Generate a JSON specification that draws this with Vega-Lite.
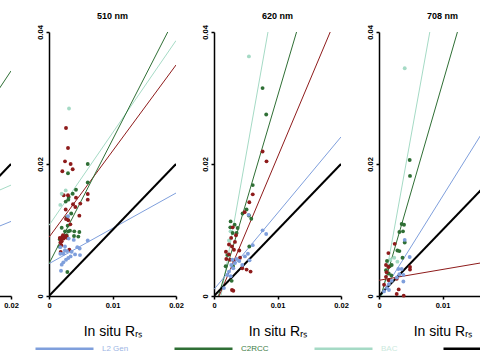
{
  "$schema": "https://vega.github.io/schema/vega-lite/v6.json",
  "padding": {"left": -129, "top": 12, "right": -46, "bottom": 0},
  "background": "white",
  "data": {"values": [
    {"band": "490 nm", "kind": "ln", "series": "C2RCC", "x": 0, "y": 0.0051},
    {"band": "490 nm", "kind": "ln", "series": "C2RCC", "x": 0.02, "y": 0.0341},
    {"band": "490 nm", "kind": "ln", "series": "BAC", "x": 0, "y": 0.0084},
    {"band": "490 nm", "kind": "ln", "series": "BAC", "x": 0.02, "y": 0.0168},
    {"band": "490 nm", "kind": "ln", "series": "L2 Gen", "x": 0, "y": 0.0035},
    {"band": "490 nm", "kind": "ln", "series": "L2 Gen", "x": 0.02, "y": 0.0113},
    {"band": "490 nm", "kind": "ln", "series": "1:1 line", "x": 0, "y": 0},
    {"band": "490 nm", "kind": "ln", "series": "1:1 line", "x": 0.02, "y": 0.02},

    {"band": "510 nm", "kind": "ln", "series": "L2 Gen", "x": 0, "y": 0.0049},
    {"band": "510 nm", "kind": "ln", "series": "L2 Gen", "x": 0.02, "y": 0.0156},
    {"band": "510 nm", "kind": "ln", "series": "ACOLITE", "x": 0, "y": 0.0089},
    {"band": "510 nm", "kind": "ln", "series": "ACOLITE", "x": 0.02, "y": 0.035},
    {"band": "510 nm", "kind": "ln", "series": "BAC", "x": 0, "y": 0.0107},
    {"band": "510 nm", "kind": "ln", "series": "BAC", "x": 0.02, "y": 0.0387},
    {"band": "510 nm", "kind": "ln", "series": "C2RCC", "x": 0, "y": 0.0049},
    {"band": "510 nm", "kind": "ln", "series": "C2RCC", "x": 0.0187, "y": 0.04},
    {"band": "510 nm", "kind": "ln", "series": "1:1 line", "x": 0, "y": 0},
    {"band": "510 nm", "kind": "ln", "series": "1:1 line", "x": 0.02, "y": 0.02},

    {"band": "620 nm", "kind": "ln", "series": "BAC", "x": 0.0011, "y": 0},
    {"band": "620 nm", "kind": "ln", "series": "BAC", "x": 0.0085, "y": 0.04},
    {"band": "620 nm", "kind": "ln", "series": "C2RCC", "x": 0.0007, "y": 0},
    {"band": "620 nm", "kind": "ln", "series": "C2RCC", "x": 0.013, "y": 0.04},
    {"band": "620 nm", "kind": "ln", "series": "ACOLITE", "x": 0.0008, "y": 0},
    {"band": "620 nm", "kind": "ln", "series": "ACOLITE", "x": 0.0183, "y": 0.04},
    {"band": "620 nm", "kind": "ln", "series": "L2 Gen", "x": 0, "y": 0.001},
    {"band": "620 nm", "kind": "ln", "series": "L2 Gen", "x": 0.02, "y": 0.0241},
    {"band": "620 nm", "kind": "ln", "series": "1:1 line", "x": 0, "y": 0},
    {"band": "620 nm", "kind": "ln", "series": "1:1 line", "x": 0.02, "y": 0.02},

    {"band": "708 nm", "kind": "ln", "series": "BAC", "x": 0.0005, "y": 0},
    {"band": "708 nm", "kind": "ln", "series": "BAC", "x": 0.008, "y": 0.04},
    {"band": "708 nm", "kind": "ln", "series": "C2RCC", "x": 0.0003, "y": 0},
    {"band": "708 nm", "kind": "ln", "series": "C2RCC", "x": 0.01235, "y": 0.04},
    {"band": "708 nm", "kind": "ln", "series": "L2 Gen", "x": 0.0002, "y": 0},
    {"band": "708 nm", "kind": "ln", "series": "L2 Gen", "x": 0.02, "y": 0.0305},
    {"band": "708 nm", "kind": "ln", "series": "ACOLITE", "x": 0, "y": 0.00238},
    {"band": "708 nm", "kind": "ln", "series": "ACOLITE", "x": 0.02, "y": 0.00566},
    {"band": "708 nm", "kind": "ln", "series": "1:1 line", "x": 0, "y": 0},
    {"band": "708 nm", "kind": "ln", "series": "1:1 line", "x": 0.02, "y": 0.02},

    {"band": "510 nm", "kind": "pt", "series": "C2RCC", "x": 0.00299, "y": 0.0186},
    {"band": "510 nm", "kind": "pt", "series": "C2RCC", "x": 0.0061, "y": 0.02},
    {"band": "510 nm", "kind": "pt", "series": "C2RCC", "x": 0.0061, "y": 0.0172},
    {"band": "510 nm", "kind": "pt", "series": "C2RCC", "x": 0.00425, "y": 0.0161},
    {"band": "510 nm", "kind": "pt", "series": "C2RCC", "x": 0.00373, "y": 0.0155},
    {"band": "510 nm", "kind": "pt", "series": "C2RCC", "x": 0.0031, "y": 0.015},
    {"band": "510 nm", "kind": "pt", "series": "C2RCC", "x": 0.00263, "y": 0.0143},
    {"band": "510 nm", "kind": "pt", "series": "C2RCC", "x": 0.00304, "y": 0.0146},
    {"band": "510 nm", "kind": "pt", "series": "C2RCC", "x": 0.00294, "y": 0.01066},
    {"band": "510 nm", "kind": "pt", "series": "C2RCC", "x": 0.002, "y": 0.01035},
    {"band": "510 nm", "kind": "pt", "series": "C2RCC", "x": 0.00252, "y": 0.0098},
    {"band": "510 nm", "kind": "pt", "series": "C2RCC", "x": 0.00304, "y": 0.0098},
    {"band": "510 nm", "kind": "pt", "series": "C2RCC", "x": 0.0033, "y": 0.0099},
    {"band": "510 nm", "kind": "pt", "series": "C2RCC", "x": 0.00398, "y": 0.0098},
    {"band": "510 nm", "kind": "pt", "series": "C2RCC", "x": 0.00478, "y": 0.0097},
    {"band": "510 nm", "kind": "pt", "series": "C2RCC", "x": 0.00226, "y": 0.0091},
    {"band": "510 nm", "kind": "pt", "series": "C2RCC", "x": 0.00278, "y": 0.0092},
    {"band": "510 nm", "kind": "pt", "series": "C2RCC", "x": 0.00394, "y": 0.0091},
    {"band": "510 nm", "kind": "pt", "series": "C2RCC", "x": 0.00462, "y": 0.009},
    {"band": "510 nm", "kind": "pt", "series": "C2RCC", "x": 0.00289, "y": 0.00364},
    {"band": "510 nm", "kind": "pt", "series": "C2RCC", "x": 0.0019, "y": 0.0084},
    {"band": "510 nm", "kind": "pt", "series": "C2RCC", "x": 0.0035, "y": 0.0125},
    {"band": "510 nm", "kind": "pt", "series": "C2RCC", "x": 0.0028, "y": 0.0119},
    {"band": "510 nm", "kind": "pt", "series": "C2RCC", "x": 0.0017, "y": 0.0086},
    {"band": "510 nm", "kind": "pt", "series": "C2RCC", "x": 0.00163, "y": 0.0075},

    {"band": "510 nm", "kind": "pt", "series": "ACOLITE", "x": 0.00268, "y": 0.02545},
    {"band": "510 nm", "kind": "pt", "series": "ACOLITE", "x": 0.00299, "y": 0.02242},
    {"band": "510 nm", "kind": "pt", "series": "ACOLITE", "x": 0.00252, "y": 0.0204},
    {"band": "510 nm", "kind": "pt", "series": "ACOLITE", "x": 0.00341, "y": 0.02},
    {"band": "510 nm", "kind": "pt", "series": "ACOLITE", "x": 0.0021, "y": 0.0189},
    {"band": "510 nm", "kind": "pt", "series": "ACOLITE", "x": 0.00373, "y": 0.0192},
    {"band": "510 nm", "kind": "pt", "series": "ACOLITE", "x": 0.00231, "y": 0.01526},
    {"band": "510 nm", "kind": "pt", "series": "ACOLITE", "x": 0.00299, "y": 0.01526},
    {"band": "510 nm", "kind": "pt", "series": "ACOLITE", "x": 0.0061, "y": 0.01545},
    {"band": "510 nm", "kind": "pt", "series": "ACOLITE", "x": 0.0061, "y": 0.0146},
    {"band": "510 nm", "kind": "pt", "series": "ACOLITE", "x": 0.00425, "y": 0.0149},
    {"band": "510 nm", "kind": "pt", "series": "ACOLITE", "x": 0.00493, "y": 0.014},
    {"band": "510 nm", "kind": "pt", "series": "ACOLITE", "x": 0.00378, "y": 0.0139},
    {"band": "510 nm", "kind": "pt", "series": "ACOLITE", "x": 0.00415, "y": 0.01348},
    {"band": "510 nm", "kind": "pt", "series": "ACOLITE", "x": 0.00263, "y": 0.0131},
    {"band": "510 nm", "kind": "pt", "series": "ACOLITE", "x": 0.00478, "y": 0.01217},
    {"band": "510 nm", "kind": "pt", "series": "ACOLITE", "x": 0.00268, "y": 0.01167},
    {"band": "510 nm", "kind": "pt", "series": "ACOLITE", "x": 0.00304, "y": 0.01147},
    {"band": "510 nm", "kind": "pt", "series": "ACOLITE", "x": 0.00336, "y": 0.01086},
    {"band": "510 nm", "kind": "pt", "series": "ACOLITE", "x": 0.0017, "y": 0.0088},
    {"band": "510 nm", "kind": "pt", "series": "ACOLITE", "x": 0.0019, "y": 0.0086},
    {"band": "510 nm", "kind": "pt", "series": "ACOLITE", "x": 0.0021, "y": 0.009},
    {"band": "510 nm", "kind": "pt", "series": "ACOLITE", "x": 0.0023, "y": 0.0087},
    {"band": "510 nm", "kind": "pt", "series": "ACOLITE", "x": 0.0025, "y": 0.0089},
    {"band": "510 nm", "kind": "pt", "series": "ACOLITE", "x": 0.002, "y": 0.0083},
    {"band": "510 nm", "kind": "pt", "series": "ACOLITE", "x": 0.0027, "y": 0.0091},
    {"band": "510 nm", "kind": "pt", "series": "ACOLITE", "x": 0.0029, "y": 0.0088},
    {"band": "510 nm", "kind": "pt", "series": "ACOLITE", "x": 0.0022, "y": 0.0092},
    {"band": "510 nm", "kind": "pt", "series": "ACOLITE", "x": 0.0018, "y": 0.0081},
    {"band": "510 nm", "kind": "pt", "series": "ACOLITE", "x": 0.00194, "y": 0.0077},
    {"band": "510 nm", "kind": "pt", "series": "ACOLITE", "x": 0.00184, "y": 0.00667},
    {"band": "510 nm", "kind": "pt", "series": "ACOLITE", "x": 0.0032, "y": 0.007},

    {"band": "510 nm", "kind": "pt", "series": "BAC", "x": 0.00315, "y": 0.0284},
    {"band": "510 nm", "kind": "pt", "series": "BAC", "x": 0.00263, "y": 0.016},
    {"band": "510 nm", "kind": "pt", "series": "BAC", "x": 0.002, "y": 0.0155},
    {"band": "510 nm", "kind": "pt", "series": "BAC", "x": 0.00178, "y": 0.0138},

    {"band": "510 nm", "kind": "pt", "series": "L2 Gen", "x": 0.003, "y": 0.0121},
    {"band": "510 nm", "kind": "pt", "series": "L2 Gen", "x": 0.0061, "y": 0.0084},
    {"band": "510 nm", "kind": "pt", "series": "L2 Gen", "x": 0.0031, "y": 0.0087},
    {"band": "510 nm", "kind": "pt", "series": "L2 Gen", "x": 0.0039, "y": 0.0085},
    {"band": "510 nm", "kind": "pt", "series": "L2 Gen", "x": 0.00446, "y": 0.0074},
    {"band": "510 nm", "kind": "pt", "series": "L2 Gen", "x": 0.00483, "y": 0.0072},
    {"band": "510 nm", "kind": "pt", "series": "L2 Gen", "x": 0.00178, "y": 0.0074},
    {"band": "510 nm", "kind": "pt", "series": "L2 Gen", "x": 0.00252, "y": 0.0075},
    {"band": "510 nm", "kind": "pt", "series": "L2 Gen", "x": 0.00283, "y": 0.0068},
    {"band": "510 nm", "kind": "pt", "series": "L2 Gen", "x": 0.00357, "y": 0.0067},
    {"band": "510 nm", "kind": "pt", "series": "L2 Gen", "x": 0.0041, "y": 0.0063},
    {"band": "510 nm", "kind": "pt", "series": "L2 Gen", "x": 0.00178, "y": 0.0064},
    {"band": "510 nm", "kind": "pt", "series": "L2 Gen", "x": 0.00226, "y": 0.0064},
    {"band": "510 nm", "kind": "pt", "series": "L2 Gen", "x": 0.00268, "y": 0.0055},
    {"band": "510 nm", "kind": "pt", "series": "L2 Gen", "x": 0.00304, "y": 0.00576},
    {"band": "510 nm", "kind": "pt", "series": "L2 Gen", "x": 0.00226, "y": 0.0051},
    {"band": "510 nm", "kind": "pt", "series": "L2 Gen", "x": 0.002, "y": 0.00475},
    {"band": "510 nm", "kind": "pt", "series": "L2 Gen", "x": 0.00488, "y": 0.0062},
    {"band": "510 nm", "kind": "pt", "series": "L2 Gen", "x": 0.00189, "y": 0.00383},
    {"band": "510 nm", "kind": "pt", "series": "L2 Gen", "x": 0.0034, "y": 0.006},
    {"band": "510 nm", "kind": "pt", "series": "L2 Gen", "x": 0.0025, "y": 0.0069},

    {"band": "620 nm", "kind": "pt", "series": "BAC", "x": 0.0055, "y": 0.0363},
    {"band": "620 nm", "kind": "pt", "series": "BAC", "x": 0.00236, "y": 0.0084},
    {"band": "620 nm", "kind": "pt", "series": "BAC", "x": 0.0026, "y": 0.0098},

    {"band": "620 nm", "kind": "pt", "series": "C2RCC", "x": 0.00765, "y": 0.0315},
    {"band": "620 nm", "kind": "pt", "series": "C2RCC", "x": 0.00822, "y": 0.0275},
    {"band": "620 nm", "kind": "pt", "series": "C2RCC", "x": 0.0061, "y": 0.0168},
    {"band": "620 nm", "kind": "pt", "series": "C2RCC", "x": 0.00513, "y": 0.0131},
    {"band": "620 nm", "kind": "pt", "series": "C2RCC", "x": 0.0055, "y": 0.0122},
    {"band": "620 nm", "kind": "pt", "series": "C2RCC", "x": 0.00587, "y": 0.0117},
    {"band": "620 nm", "kind": "pt", "series": "C2RCC", "x": 0.00262, "y": 0.0113},
    {"band": "620 nm", "kind": "pt", "series": "C2RCC", "x": 0.00325, "y": 0.0108},
    {"band": "620 nm", "kind": "pt", "series": "C2RCC", "x": 0.00372, "y": 0.0103},
    {"band": "620 nm", "kind": "pt", "series": "C2RCC", "x": 0.00257, "y": 0.0104},
    {"band": "620 nm", "kind": "pt", "series": "C2RCC", "x": 0.00294, "y": 0.00955},
    {"band": "620 nm", "kind": "pt", "series": "C2RCC", "x": 0.00356, "y": 0.00955},
    {"band": "620 nm", "kind": "pt", "series": "C2RCC", "x": 0.00556, "y": 0.0075},
    {"band": "620 nm", "kind": "pt", "series": "C2RCC", "x": 0.00278, "y": 0.0023},
    {"band": "620 nm", "kind": "pt", "series": "C2RCC", "x": 0.0021, "y": 0.0062},
    {"band": "620 nm", "kind": "pt", "series": "C2RCC", "x": 0.003, "y": 0.0045},
    {"band": "620 nm", "kind": "pt", "series": "C2RCC", "x": 0.0045, "y": 0.0125},
    {"band": "620 nm", "kind": "pt", "series": "C2RCC", "x": 0.00184, "y": 0.0045},

    {"band": "620 nm", "kind": "pt", "series": "ACOLITE", "x": 0.00765, "y": 0.0219},
    {"band": "620 nm", "kind": "pt", "series": "ACOLITE", "x": 0.00827, "y": 0.0204},
    {"band": "620 nm", "kind": "pt", "series": "ACOLITE", "x": 0.0061, "y": 0.0154},
    {"band": "620 nm", "kind": "pt", "series": "ACOLITE", "x": 0.00556, "y": 0.0142},
    {"band": "620 nm", "kind": "pt", "series": "ACOLITE", "x": 0.00482, "y": 0.0127},
    {"band": "620 nm", "kind": "pt", "series": "ACOLITE", "x": 0.00294, "y": 0.0104},
    {"band": "620 nm", "kind": "pt", "series": "ACOLITE", "x": 0.00346, "y": 0.0092},
    {"band": "620 nm", "kind": "pt", "series": "ACOLITE", "x": 0.00236, "y": 0.0078},
    {"band": "620 nm", "kind": "pt", "series": "ACOLITE", "x": 0.00283, "y": 0.0075},
    {"band": "620 nm", "kind": "pt", "series": "ACOLITE", "x": 0.00314, "y": 0.007},
    {"band": "620 nm", "kind": "pt", "series": "ACOLITE", "x": 0.00398, "y": 0.0069},
    {"band": "620 nm", "kind": "pt", "series": "ACOLITE", "x": 0.00188, "y": 0.0067},
    {"band": "620 nm", "kind": "pt", "series": "ACOLITE", "x": 0.00236, "y": 0.0063},
    {"band": "620 nm", "kind": "pt", "series": "ACOLITE", "x": 0.00194, "y": 0.0056},
    {"band": "620 nm", "kind": "pt", "series": "ACOLITE", "x": 0.00251, "y": 0.0055},
    {"band": "620 nm", "kind": "pt", "series": "ACOLITE", "x": 0.00314, "y": 0.0053},
    {"band": "620 nm", "kind": "pt", "series": "ACOLITE", "x": 0.00445, "y": 0.0042},
    {"band": "620 nm", "kind": "pt", "series": "ACOLITE", "x": 0.00513, "y": 0.004},
    {"band": "620 nm", "kind": "pt", "series": "ACOLITE", "x": 0.00576, "y": 0.0037},
    {"band": "620 nm", "kind": "pt", "series": "ACOLITE", "x": 0.00283, "y": 0.0009},
    {"band": "620 nm", "kind": "pt", "series": "ACOLITE", "x": 0.00304, "y": 0.0008},
    {"band": "620 nm", "kind": "pt", "series": "ACOLITE", "x": 0.0033, "y": 0.0082},
    {"band": "620 nm", "kind": "pt", "series": "ACOLITE", "x": 0.0027, "y": 0.0088},
    {"band": "620 nm", "kind": "pt", "series": "ACOLITE", "x": 0.0041, "y": 0.0058},

    {"band": "620 nm", "kind": "pt", "series": "L2 Gen", "x": 0.00545, "y": 0.0123},
    {"band": "620 nm", "kind": "pt", "series": "L2 Gen", "x": 0.00765, "y": 0.00995},
    {"band": "620 nm", "kind": "pt", "series": "L2 Gen", "x": 0.00822, "y": 0.0094},
    {"band": "620 nm", "kind": "pt", "series": "L2 Gen", "x": 0.0061, "y": 0.0077},
    {"band": "620 nm", "kind": "pt", "series": "L2 Gen", "x": 0.00534, "y": 0.0064},
    {"band": "620 nm", "kind": "pt", "series": "L2 Gen", "x": 0.00487, "y": 0.006},
    {"band": "620 nm", "kind": "pt", "series": "L2 Gen", "x": 0.0056, "y": 0.0054},
    {"band": "620 nm", "kind": "pt", "series": "L2 Gen", "x": 0.00356, "y": 0.0056},
    {"band": "620 nm", "kind": "pt", "series": "L2 Gen", "x": 0.00398, "y": 0.0053},
    {"band": "620 nm", "kind": "pt", "series": "L2 Gen", "x": 0.00445, "y": 0.0047},
    {"band": "620 nm", "kind": "pt", "series": "L2 Gen", "x": 0.00273, "y": 0.0047},
    {"band": "620 nm", "kind": "pt", "series": "L2 Gen", "x": 0.00304, "y": 0.0042},
    {"band": "620 nm", "kind": "pt", "series": "L2 Gen", "x": 0.00236, "y": 0.0037},
    {"band": "620 nm", "kind": "pt", "series": "L2 Gen", "x": 0.0021, "y": 0.0032},
    {"band": "620 nm", "kind": "pt", "series": "L2 Gen", "x": 0.00262, "y": 0.003},
    {"band": "620 nm", "kind": "pt", "series": "L2 Gen", "x": 0.00157, "y": 0.0012},
    {"band": "620 nm", "kind": "pt", "series": "L2 Gen", "x": 0.0033, "y": 0.005},
    {"band": "620 nm", "kind": "pt", "series": "L2 Gen", "x": 0.0029, "y": 0.0055},

    {"band": "708 nm", "kind": "pt", "series": "BAC", "x": 0.00405, "y": 0.0345},
    {"band": "708 nm", "kind": "pt", "series": "BAC", "x": 0.0018, "y": 0.0055},
    {"band": "708 nm", "kind": "pt", "series": "BAC", "x": 0.0024, "y": 0.0058},
    {"band": "708 nm", "kind": "pt", "series": "BAC", "x": 0.0029, "y": 0.0052},

    {"band": "708 nm", "kind": "pt", "series": "C2RCC", "x": 0.00483, "y": 0.0206},
    {"band": "708 nm", "kind": "pt", "series": "C2RCC", "x": 0.00488, "y": 0.0182},
    {"band": "708 nm", "kind": "pt", "series": "C2RCC", "x": 0.00357, "y": 0.0109},
    {"band": "708 nm", "kind": "pt", "series": "C2RCC", "x": 0.00394, "y": 0.0108},
    {"band": "708 nm", "kind": "pt", "series": "C2RCC", "x": 0.00321, "y": 0.0097},
    {"band": "708 nm", "kind": "pt", "series": "C2RCC", "x": 0.00378, "y": 0.0098},
    {"band": "708 nm", "kind": "pt", "series": "C2RCC", "x": 0.00405, "y": 0.0081},
    {"band": "708 nm", "kind": "pt", "series": "C2RCC", "x": 0.0029, "y": 0.0069},
    {"band": "708 nm", "kind": "pt", "series": "C2RCC", "x": 0.00321, "y": 0.0068},
    {"band": "708 nm", "kind": "pt", "series": "C2RCC", "x": 0.00126, "y": 0.0053},
    {"band": "708 nm", "kind": "pt", "series": "C2RCC", "x": 0.00168, "y": 0.0045},
    {"band": "708 nm", "kind": "pt", "series": "C2RCC", "x": 0.002, "y": 0.0047},
    {"band": "708 nm", "kind": "pt", "series": "C2RCC", "x": 0.0011, "y": 0.0039},
    {"band": "708 nm", "kind": "pt", "series": "C2RCC", "x": 0.00153, "y": 0.0034},
    {"band": "708 nm", "kind": "pt", "series": "C2RCC", "x": 0.00195, "y": 0.0031},
    {"band": "708 nm", "kind": "pt", "series": "C2RCC", "x": 0.0037, "y": 0.0058},

    {"band": "708 nm", "kind": "pt", "series": "ACOLITE", "x": 0.00247, "y": 0.0079},
    {"band": "708 nm", "kind": "pt", "series": "ACOLITE", "x": 0.00148, "y": 0.0065},
    {"band": "708 nm", "kind": "pt", "series": "ACOLITE", "x": 0.0011, "y": 0.0047},
    {"band": "708 nm", "kind": "pt", "series": "ACOLITE", "x": 0.00148, "y": 0.0044},
    {"band": "708 nm", "kind": "pt", "series": "ACOLITE", "x": 0.00488, "y": 0.0044},
    {"band": "708 nm", "kind": "pt", "series": "ACOLITE", "x": 0.00488, "y": 0.004},
    {"band": "708 nm", "kind": "pt", "series": "ACOLITE", "x": 0.0011, "y": 0.0029},
    {"band": "708 nm", "kind": "pt", "series": "ACOLITE", "x": 0.00153, "y": 0.0024},
    {"band": "708 nm", "kind": "pt", "series": "ACOLITE", "x": 0.0008, "y": 0.0017},
    {"band": "708 nm", "kind": "pt", "series": "ACOLITE", "x": 0.00279, "y": 0.0026},
    {"band": "708 nm", "kind": "pt", "series": "ACOLITE", "x": 0.0031, "y": 0.001},
    {"band": "708 nm", "kind": "pt", "series": "ACOLITE", "x": 0.00279, "y": 0.0003},
    {"band": "708 nm", "kind": "pt", "series": "ACOLITE", "x": 0.00389, "y": 0.00005},
    {"band": "708 nm", "kind": "pt", "series": "ACOLITE", "x": 0.0012, "y": 0.0036},

    {"band": "708 nm", "kind": "pt", "series": "L2 Gen", "x": 0.00405, "y": 0.0085},
    {"band": "708 nm", "kind": "pt", "series": "L2 Gen", "x": 0.00483, "y": 0.0059},
    {"band": "708 nm", "kind": "pt", "series": "L2 Gen", "x": 0.00305, "y": 0.0041},
    {"band": "708 nm", "kind": "pt", "series": "L2 Gen", "x": 0.00357, "y": 0.0041},
    {"band": "708 nm", "kind": "pt", "series": "L2 Gen", "x": 0.00321, "y": 0.0033},
    {"band": "708 nm", "kind": "pt", "series": "L2 Gen", "x": 0.00384, "y": 0.0032},
    {"band": "708 nm", "kind": "pt", "series": "L2 Gen", "x": 0.00384, "y": 0.0022},
    {"band": "708 nm", "kind": "pt", "series": "L2 Gen", "x": 0.002, "y": 0.0023},
    {"band": "708 nm", "kind": "pt", "series": "L2 Gen", "x": 0.00157, "y": 0.0018},
    {"band": "708 nm", "kind": "pt", "series": "L2 Gen", "x": 0.00126, "y": 0.0012},
    {"band": "708 nm", "kind": "pt", "series": "L2 Gen", "x": 0.00079, "y": 0.0007},
    {"band": "708 nm", "kind": "pt", "series": "L2 Gen", "x": 0.00157, "y": 0.0009},
    {"band": "708 nm", "kind": "pt", "series": "L2 Gen", "x": 0.0028, "y": 0.0028}
  ]},
  "facet": {
    "column": {
      "field": "band", "type": "nominal",
      "sort": ["490 nm", "510 nm", "620 nm", "708 nm"],
      "header": {"title": null, "labelFont": "Liberation Sans", "labelFontSize": 9, "labelFontWeight": "bold", "labelColor": "#000000", "labelPadding": 11}
    }
  },
  "spacing": 38,
  "bounds": "flush",
  "resolve": {"axis": {"x": "independent", "y": "independent"}},
  "spec": {
    "width": 127,
    "height": 264,
    "encoding": {
      "x": {"field": "x", "type": "quantitative",
        "scale": {"domain": [0, 0.02], "nice": false, "zero": false},
        "axis": {"values": [0, 0.01, 0.02], "labelExpr": "datum.value == 0 ? '0' : format(datum.value, '.2f')", "title": "In situ Rᵣₛ", "titlePadding": 16}},
      "y": {"field": "y", "type": "quantitative",
        "scale": {"domain": [0, 0.04], "nice": false, "zero": false},
        "axis": {"values": [0, 0.02, 0.04], "labelExpr": "datum.value == 0 ? '0' : format(datum.value, '.2f')", "title": null, "labelAngle": 270}},
      "color": {"field": "series", "type": "nominal",
        "scale": {"domain": ["L2 Gen", "C2RCC", "BAC", "1:1 line", "ACOLITE"], "range": ["#7f9fdc", "#2f6f35", "#a5dac5", "#000000", "#8e1b1b"]},
        "legend": {
          "orient": "none", "legendX": 150, "legendY": 286, "direction": "horizontal", "title": null,
          "values": ["L2 Gen", "C2RCC", "BAC", "1:1 line"],
          "symbolType": "stroke", "symbolSize": 3364, "symbolStrokeWidth": 2.5,
          "labelFont": "Liberation Sans", "labelFontSize": 8, "labelOffset": 7, "columnPadding": 40,
          "encode": {
            "labels": {"update": {"fill": {"signal": "datum.value === 'L2 Gen' ? '#9db5e4' : datum.value === 'C2RCC' ? '#3d7d45' : datum.value === 'BAC' ? '#cbe9dd' : '#555555'"}}}
          }
        }
      }
    },
    "layer": [
      {
        "transform": [{"filter": "datum.kind === 'ln'"}],
        "mark": {"type": "line", "clip": true},
        "encoding": {
          "strokeWidth": {"condition": {"test": "datum.series === '1:1 line'", "value": 2}, "value": 1}
        }
      },
      {
        "transform": [{"filter": "datum.kind === 'pt'"}],
        "mark": {"type": "circle", "size": 15, "opacity": 1}
      }
    ]
  },
  "config": {
    "view": {"stroke": null},
    "axis": {
      "grid": false, "domainColor": "#000000", "domainWidth": 1.5,
      "tickColor": "#000000", "tickSize": 3, "tickWidth": 1.5,
      "labelFont": "Liberation Sans", "labelFontSize": 7.5, "labelFontWeight": "bold", "labelColor": "#000000",
      "labelPadding": 2, "labelFlush": false,
      "titleFont": "Liberation Sans", "titleFontSize": 14, "titleFontWeight": "normal", "titleColor": "#000000"
    }
  }
}
